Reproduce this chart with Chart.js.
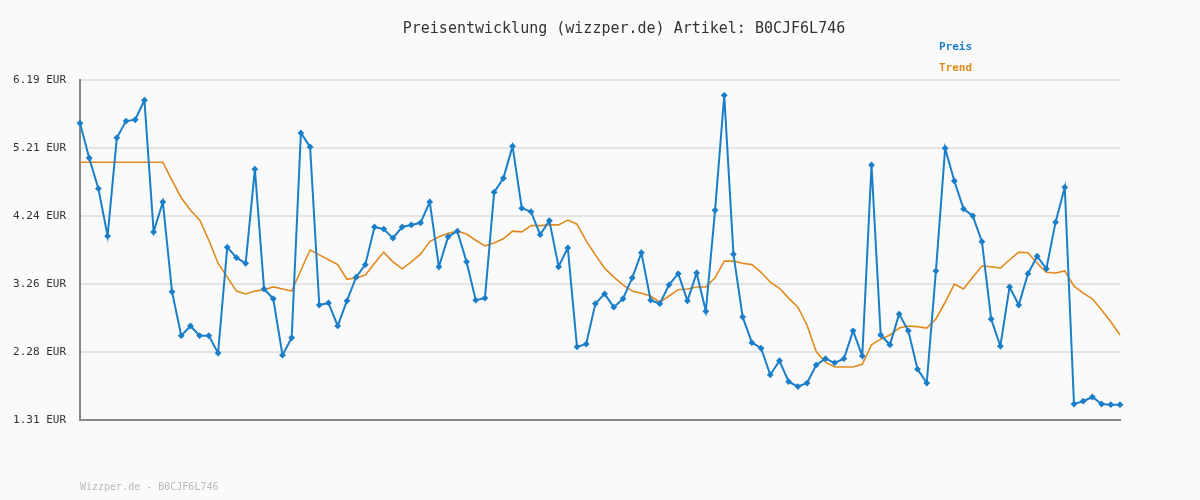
<!DOCTYPE html>
<html><head><meta charset="utf-8">
<script src="https://cdn.jsdelivr.net/npm/chart.js@4"></script>
<style>
html,body{margin:0;padding:0;background:#fafafa;}
#wrap{position:relative;width:1200px;height:500px;font-family:"DejaVu Sans Mono",monospace;}
canvas{position:absolute;left:0;top:0;}
.t{position:absolute;white-space:nowrap;}
</style></head><body>
<div id="wrap">
<canvas id="c" width="1200" height="500"></canvas>
<div class="t" style="left:0;width:1248px;text-align:center;top:19px;font-size:15px;color:#333;">Preisentwicklung (wizzper.de) Artikel: B0CJF6L746</div>
<div class="t" style="left:939px;top:40px;font-size:11px;font-weight:bold;color:#1a7fc8;">Preis</div>
<div class="t" style="left:939px;top:61px;font-size:11px;font-weight:bold;color:#e08a1e;">Trend</div>
<div class="t" style="left:80px;top:481px;font-size:10px;color:#bbb;">Wizzper.de - B0CJF6L746</div>
</div>
<script>
const preis = [5.57,5.07,4.63,3.95,5.36,5.60,5.62,5.90,4.01,4.44,3.15,2.52,2.66,2.52,2.52,2.27,3.79,3.64,3.56,4.91,3.19,3.05,2.24,2.49,5.43,5.23,2.96,2.99,2.66,3.02,3.36,3.54,4.08,4.05,3.92,4.08,4.11,4.14,4.44,
3.51,3.94,4.02,3.58,3.03,3.06,4.58,4.78,5.24,4.35,4.30,3.97,4.17,3.51,3.78,2.36,2.40,2.98,3.12,2.93,3.05,3.35,3.71,3.03,2.98,3.25,3.41,3.02,3.42,2.87,4.32,5.97,3.69,2.79,2.42,2.34,1.96,2.16,
1.86,1.79,1.84,2.10,2.19,2.13,2.19,2.59,2.23,4.97,2.53,2.39,2.83,2.59,2.04,1.84,3.45,5.21,4.74,4.34,4.24,3.87,2.76,2.37,3.22,2.96,3.41,3.66,3.48,4.15,4.65,1.54,1.58,1.64,1.54,1.53,1.53];
const trend = [5.01,5.01,5.01,5.01,5.01,5.01,5.01,5.01,5.01,5.01,4.75,4.50,4.32,4.18,3.89,3.56,3.36,3.16,3.12,3.16,3.18,3.22,3.19,3.16,3.46,3.75,3.68,3.61,3.54,3.33,3.35,3.39,3.56,3.72,3.58,3.48,3.58,3.69,3.87,
3.94,3.99,4.02,3.98,3.89,3.81,3.85,3.91,4.02,4.01,4.10,4.10,4.11,4.11,4.18,4.12,3.88,3.68,3.49,3.36,3.25,3.16,3.13,3.09,3.00,3.09,3.18,3.19,3.22,3.22,3.35,3.59,3.59,3.56,3.54,3.43,3.29,3.20,
3.06,2.93,2.67,2.29,2.14,2.07,2.07,2.07,2.11,2.39,2.47,2.53,2.63,2.66,2.65,2.63,2.76,3.00,3.26,3.19,3.36,3.52,3.51,3.49,3.61,3.72,3.71,3.56,3.43,3.42,3.45,3.23,3.13,3.05,2.89,2.72,2.53];
const yTicks = [1.31,2.28,3.26,4.24,5.21,6.19];
const labels = preis.map((_,i)=>String(i+1));
new Chart(document.getElementById('c'),{
  type:'line',
  data:{labels,datasets:[
    {label:'Preis',data:preis,borderColor:'#1a7fc8',backgroundColor:'#1a7fc8',borderWidth:2,pointStyle:'rectRot',pointRadius:2,pointHoverRadius:2,tension:0},
    {label:'Trend',data:trend,borderColor:'#e08a1e',borderWidth:1.6,pointRadius:0,tension:0}
  ]},
  options:{responsive:false,animation:false,
    layout:{padding:{top:80,bottom:80,right:80,left:0}},
    plugins:{legend:{display:false},tooltip:{enabled:false}},
    scales:{
      x:{offset:false,ticks:{display:false},grid:{display:false},border:{display:true,color:'#888',width:2},afterFit:s=>{s.height=0;}},
      y:{min:1.31,max:6.19,afterFit:s=>{s.width=80;},
        afterBuildTicks:s=>{s.ticks=yTicks.map(v=>({value:v}));},
        ticks:{padding:14,color:'#333',font:{family:'DejaVu Sans Mono',size:11},callback:v=>v.toFixed(2)+' EUR'},
        grid:{color:'#e4e4e4',lineWidth:2,drawTicks:false},border:{display:true,color:'#888',width:2}}
    }}
});
</script>
</body></html>
